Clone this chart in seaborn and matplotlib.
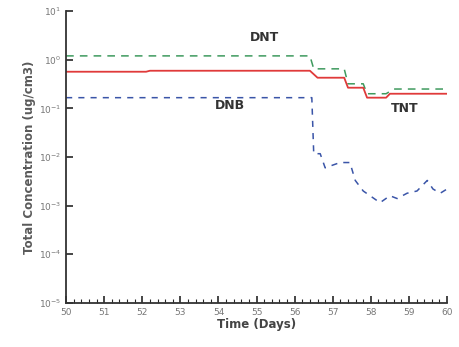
import numpy as np
import pandas as pd
import matplotlib
matplotlib.use("Agg")
import matplotlib.pyplot as plt
import matplotlib.ticker as mticker
import seaborn as sns

# DNT (green dashed)
dnt_days = [50, 56.4, 56.5, 57.3, 57.4, 57.8, 57.9, 58.4, 58.6, 60]
dnt_conc = [1.2, 1.2, 0.65, 0.65, 0.32, 0.32, 0.2, 0.2, 0.25, 0.25]

# TNT (red solid)
tnt_days = [50, 52.1, 52.2, 56.4, 56.6, 57.3, 57.4, 57.8, 57.9, 58.4, 58.5, 60]
tnt_conc = [0.567, 0.567, 0.594, 0.594, 0.427, 0.427, 0.266, 0.266, 0.166, 0.166, 0.2, 0.2]

# DNB (blue dashed)
dnb_days = [50, 56.45, 56.5, 56.67, 56.8, 57.19, 57.45, 57.59, 57.8, 58.03, 58.24,
            58.5, 58.69, 58.95, 59.21, 59.48, 59.63, 59.82, 60]
dnb_conc = [0.166, 0.166, 0.0117, 0.0117, 0.006, 0.0077, 0.0077, 0.0033, 0.0020, 0.0015,
            0.00115, 0.0016, 0.0014, 0.0018, 0.0020, 0.0033, 0.0022, 0.0018, 0.0022]

y_ticks = [1e-5, 1e-4, 1e-3, 1e-2, 1e-1, 1e0, 1e1]
x_ticks = list(range(50, 61))

sns.set_style("ticks")
plt.rcParams['font.family'] = ['DejaVu Sans']

fig = plt.figure(figsize=(4.59, 3.47), dpi=100)
ax = fig.add_axes([0.144, 0.127, 0.83, 0.841])

sns.lineplot(x=dnt_days, y=dnt_conc, ax=ax, color="#3f9a5e", linestyle=(0, (5, 4)), linewidth=1.1)
sns.lineplot(x=tnt_days, y=tnt_conc, ax=ax, color="#e03a3a", linewidth=1.3)
sns.lineplot(x=dnb_days, y=dnb_conc, ax=ax, color="#3a55a8", linestyle=(0, (4, 4)), linewidth=1.1)

ax.set_yscale("log")
ax.set_xlim(50, 60)
ax.set_ylim(1e-5, 1e1)
ax.set_yticks(y_ticks)
ax.yaxis.set_minor_locator(mticker.NullLocator())
ax.yaxis.set_major_formatter(mticker.LogFormatterMathtext())
ax.set_xticks(x_ticks)
ax.xaxis.set_minor_locator(mticker.MultipleLocator(0.2))

ax.tick_params(axis="both", which="major", direction="in", length=5, width=1.2,
               labelsize=6.5, labelcolor="#777777")
ax.tick_params(axis="x", which="minor", direction="in", length=3, width=0.8)
sns.despine(ax=ax)
for s in ["left", "bottom"]:
    ax.spines[s].set_linewidth(1.3)
    ax.spines[s].set_color("#333333")

ax.set_xlabel("Time (Days)", fontsize=8.5, fontweight="bold", color="#444444", labelpad=1)
ax.set_ylabel("Total Concentration (ug/cm3)", fontsize=8.5, fontweight="bold",
              color="#5a5a5a", labelpad=2)

ax.text(55.2, 2.8, "DNT", fontsize=9, fontweight="bold", color="#333333", ha="center", va="center")
ax.text(54.3, 0.114, "DNB", fontsize=9, fontweight="bold", color="#333333", ha="center", va="center")
ax.text(58.9, 0.1, "TNT", fontsize=9, fontweight="bold", color="#333333", ha="center", va="center")

fig.savefig("out.png", dpi=100)
